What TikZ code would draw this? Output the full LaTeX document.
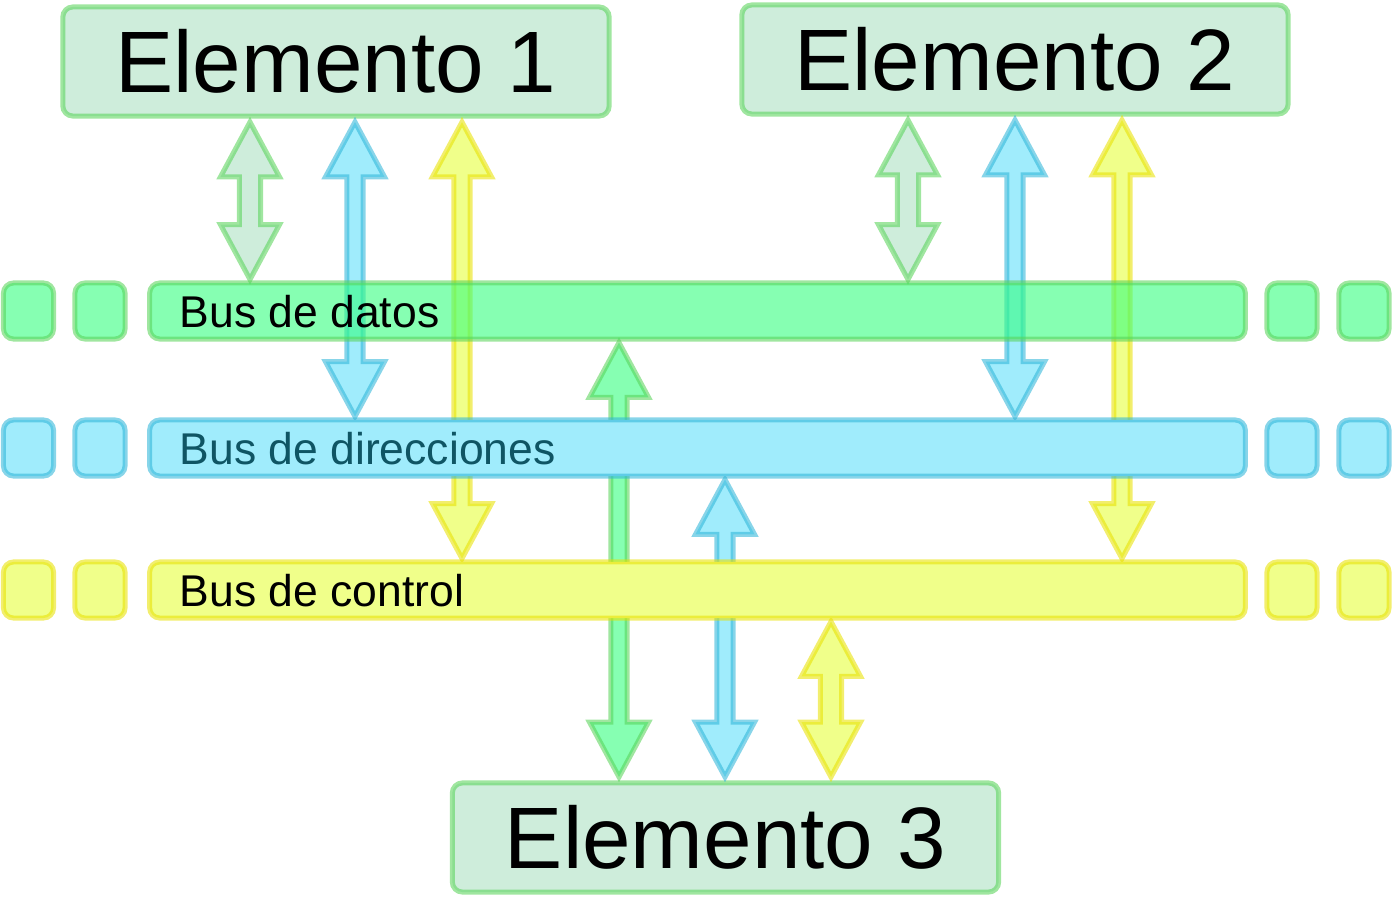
\documentclass[tikz,border=0pt]{standalone}
\usepackage{fontspec}
\setmainfont{Liberation Sans}
\usetikzlibrary{calc}
\definecolor{lgreen}{RGB}{88,211,88}
\definecolor{lblue}{RGB}{46,181,216}
\definecolor{lyellow}{RGB}{232,225,0}
\definecolor{fpale}{RGB}{206,237,219}
\definecolor{fgreen}{RGB}{134,255,178}
\definecolor{fgreent}{RGB}{53,255,127}
\definecolor{fblue}{RGB}{160,236,252}
\definecolor{fyellow}{RGB}{240,255,138}
\definecolor{txtblue}{RGB}{15,85,100}
\tikzset{
  rnd/.style={line width=0.05cm, draw opacity=.57, rounded corners=0.1cm, inner sep=0pt},
  elem/.style={rnd, draw=lgreen, fill=fpale, minimum width=5.46cm, minimum height=1.09cm,
               font=\fontsize{24.8}{28}\selectfont},
  bus/.style={rnd, minimum width=10.95cm, minimum height=0.56cm},
  busd/.style={bus, draw=lgreen, fill=fgreent, fill opacity=.6},
  busa/.style={bus, draw=lblue, fill=fblue},
  busc/.style={bus, draw=lyellow, fill=fyellow},
  sq/.style={minimum width=0.5cm},
  lbl/.style={anchor=base west, inner sep=0pt, font=\fontsize{12.65}{15}\selectfont},
  shaft/.store in=\shaftw, shaft=2.3pt,
  dblarrow/.style={line width=0.05cm, draw opacity=.57,
    to path={let \p1=(\tikztostart), \p2=(\tikztotarget) in
      (\x1,\y1-1pt) -- (\x1+8.4pt,\y1-16.6pt) -- (\x1+\shaftw,\y1-16.6pt)
      -- (\x1+\shaftw,\y2+16.6pt) -- (\x1+8.4pt,\y2+16.6pt) -- (\x1,\y2+1pt)
      -- (\x1-8.4pt,\y2+16.6pt) -- (\x1-\shaftw,\y2+16.6pt)
      -- (\x1-\shaftw,\y1-16.6pt) -- (\x1-8.4pt,\y1-16.6pt) -- cycle}},
  arrp/.style={dblarrow, draw=lgreen, fill=fpale, shaft=3pt},
  arrd/.style={dblarrow, draw=lgreen, fill=fgreen},
  arra/.style={dblarrow, draw=lblue, fill=fblue},
  arrc/.style={dblarrow, draw=lyellow, fill=fyellow}
}
\begin{document}
\begin{tikzpicture}[x=0.01cm, y=-0.01cm]
  \useasboundingbox (0,0) rectangle (1393,897);
  % elementos
  \node[elem] (e1) at (336,61.5) {Elemento 1};
  \node[elem] (e2) at (1015,59.5) {Elemento 2};
  \node[elem] (e3) at (725.5,837.5) {Elemento 3};
  % buses (solo como referencia para las flechas)
  \coordinate (bdn) at (697.5,283); \coordinate (bds) at (697.5,339);
  \coordinate (ban) at (697.5,420); \coordinate (bas) at (697.5,476);
  \coordinate (bcn) at (697.5,562); \coordinate (bcs) at (697.5,618);
  % flechas
  \draw[arrp] (e1.south -| 250,0) to (bdn -| 250,0);
  \draw[arra] (e1.south -| 355,0) to (ban -| 355,0);
  \draw[arrc] (e1.south -| 462,0) to (bcn -| 462,0);
  \draw[arrp] (e2.south -| 908,0) to (bdn -| 908,0);
  \draw[arra] (e2.south -| 1015,0) to (ban -| 1015,0);
  \draw[arrc] (e2.south -| 1122,0) to (bcn -| 1122,0);
  \draw[arrd] (bds -| 619,0) to (e3.north -| 619,0);
  \draw[arra] (bas -| 725,0) to (e3.north -| 725,0);
  \draw[arrc, shaft=3pt] (bcs -| 831,0) to (e3.north -| 831,0);
  % buses
  \node[busd] (bd) at (697.5,311) {};
  \node[busa] (ba) at (697.5,448) {};
  \node[busc] (bc) at (697.5,590) {};
  \foreach \x [count=\i] in {28.5,100,1292,1364} {
    \node[busd, sq] (sd\i) at (\x,311) {};
    \node[busa, sq] (sa\i) at (\x,448) {};
    \node[busc, sq] (sc\i) at (\x,590) {};
  }
  \node[lbl] (ld) at (179,327) {Bus de datos};
  \node[lbl, text=txtblue] (la) at (179,464) {Bus de direcciones};
  \node[lbl] (lc) at (179,606) {Bus de control};
\end{tikzpicture}
\end{document}
